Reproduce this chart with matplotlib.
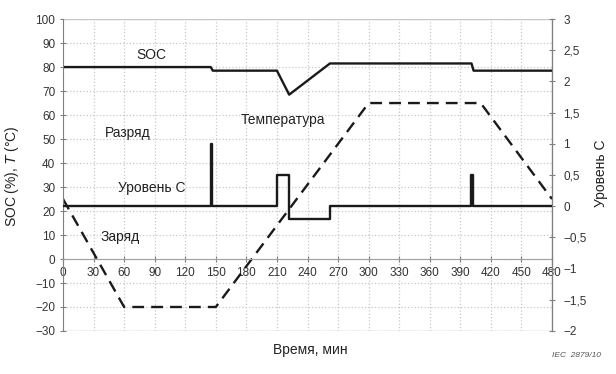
import matplotlib
matplotlib.use('Agg')
import matplotlib.pyplot as plt
from matplotlib.ticker import MultipleLocator, FuncFormatter

plt.rcParams['font.family'] = ['Liberation Sans', 'DejaVu Sans']

# SOC, % (left axis)
soc_t = [0, 145, 147, 210, 222, 262, 401, 403, 480]
soc_v = [80, 80, 78.5, 78.5, 68.5, 81.5, 81.5, 78.5, 78.5]

# Temperature, °C (left axis)
temp_t = [0, 60, 150, 300, 410, 480]
temp_v = [25, -20, -20, 65, 65, 25]

# C-rate level (right axis)
c_t = [0, 145, 145, 146, 146, 210, 210, 222, 222, 262, 262, 400, 400, 402, 402, 480]
c_v = [0, 0, 1, 1, 0, 0, 0.5, 0.5, -0.2, -0.2, 0, 0, 0.5, 0.5, 0, 0]

x_ticks = list(range(0, 481, 30))
labels = [('SOC', 87, 85), ('Разряд', 64, 52.5), ('Температура', 216, 58),
          ('Уровень С', 87, 29.5), ('Заряд', 56, 9.3)]

fig = plt.figure(figsize=(6.16, 3.74), dpi=100)
ax = fig.add_axes([0.1023, 0.115, 0.7938, 0.834])
ax2 = ax.twinx()

ax.set_xlim(0, 480)
ax.set_ylim(-30, 100)
ax2.set_ylim(-2, 3)

ax.set_xticks(x_ticks)
ax.yaxis.set_major_locator(MultipleLocator(10))
ax2.yaxis.set_major_locator(MultipleLocator(0.5))
ax2.yaxis.set_major_formatter(FuncFormatter(
    lambda v, p: ('%g' % v).replace('.', ',').replace('-', '\u2212')))

ax.grid(True, color='#c8c8c8', linestyle=':', linewidth=0.9)
ax.set_axisbelow(True)

ax.spines['top'].set_visible(False)
ax2.spines['top'].set_visible(False)
ax.spines['bottom'].set_position(('data', 0))
ax.spines['bottom'].set_color('#a0a0a0')
ax.spines['left'].set_color('#808080')
ax2.spines['right'].set_color('#808080')
ax2.spines['left'].set_visible(False)
ax2.spines['bottom'].set_visible(False)
ax.axhline(-30, color='#c8c8c8', lw=1)
ax.axhline(100, color='#c8c8c8', lw=1)

ax.tick_params(axis='both', labelsize=8.5, colors='#808080', labelcolor='#333333',
               direction='inout', length=4)
ax.tick_params(axis='x', pad=4)
ax2.tick_params(axis='y', labelsize=8.5, colors='#808080', labelcolor='#333333',
                direction='inout', length=4, pad=6)

ax.plot(soc_t, soc_v, color='#1a1a1a', lw=1.7)
ax.plot(temp_t, temp_v, color='#1a1a1a', lw=1.7, dashes=(5, 3))
ax2.plot(c_t, c_v, color='#1a1a1a', lw=1.7)

for txt, x, y in labels:
    ax.text(x, y, txt, ha='center', va='center', fontsize=10, color='#222222')

fig.text(0.503, 0.064, 'Время, мин', ha='center', va='center', fontsize=10, color='#222222')
fig.text(0.02, 0.53, 'SOC (%), $\\it{T}$ (°C)', rotation=90, ha='center', va='center',
         fontsize=10, color='#222222')
fig.text(0.975, 0.537, 'Уровень С', rotation=90, ha='center', va='center',
         fontsize=10, color='#222222')
fig.text(0.935, 0.05, 'IEC  2879/10', ha='center', va='center', fontsize=6,
         style='italic', color='#555555')

fig.savefig('out.png', dpi=100)
